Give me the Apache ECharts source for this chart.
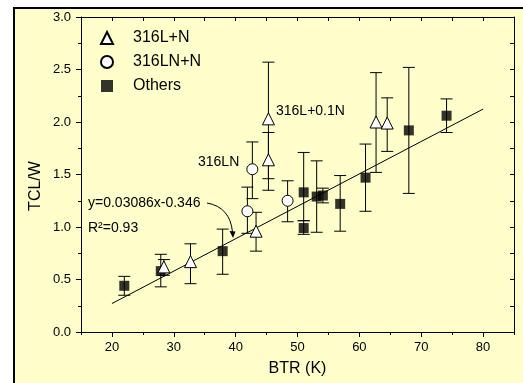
<!DOCTYPE html>
<html>
<head>
<meta charset="utf-8">
<script src="https://cdn.jsdelivr.net/npm/echarts@6/dist/echarts.min.js"></script>
<style>
  html, body { margin: 0; padding: 0; background: #fff; }
  #container { width: 523px; height: 383px; }
</style>
</head>
<body>
<div id="container"></div>
<script>
var FONT = '"Liberation Sans", Arial, sans-serif';

// 316L+N (triangles)
var lnX = [28.4, 32.7, 43.3, 45.3, 45.3, 62.7, 64.5];
var lnY = [0.62, 0.67, 0.96, 2.03, 1.64, 2.00, 1.99];
var lnLow = [0.54, 0.46, 0.77, 1.46, 1.35, 1.52, 1.72];
var lnHigh = [0.69, 0.84, 1.14, 2.57, 1.90, 2.47, 2.23];

// 316LN+N (circles)
var lnnX = [42.7, 41.9, 48.4];
var lnnY = [1.55, 1.15, 1.25];
var lnnLow = [1.27, 0.94, 1.05];
var lnnHigh = [1.81, 1.38, 1.44];

// Others (squares)
var othX = [22, 27.9, 37.9, 51, 51, 53.1, 54.1, 56.9, 61, 68, 74.1];
var othY = [0.44, 0.58, 0.77, 1.33, 0.99, 1.29, 1.30, 1.22, 1.47, 1.92, 2.06];
var othLow = [0.35, 0.43, 0.55, 1.06, 0.93, 0.95, 1.23, 0.96, 1.15, 1.32, 1.90];
var othHigh = [0.53, 0.74, 0.98, 1.71, 1.06, 1.63, 1.37, 1.49, 1.79, 2.52, 2.22];

// linear fit y=0.03086x-0.346
var fitX = [20, 80];
var fitY = [0.271, 2.123];

var xMajor = [20, 30, 40, 50, 60, 70, 80];
var xMinor = [15, 25, 35, 45, 55, 65, 75, 85];
var xAll = [15, 20, 25, 30, 35, 40, 45, 50, 55, 60, 65, 70, 75, 80, 85];

function pts(xs, ys) {
    return xs.map(function (x, i) { return [x, ys[i]]; });
}
function bars(xs, lo, hi) {
    return xs.map(function (x, i) { return [x, lo[i], hi[i]]; });
}

function renderBar(params, api) {
    var x = api.value(0);
    var lo = api.coord([x, api.value(1)]);
    var hi = api.coord([x, api.value(2)]);
    var w = 6;
    var st = { stroke: '#000', lineWidth: 1 };
    return {
        type: 'group',
        children: [
            { type: 'line', shape: { x1: lo[0], y1: lo[1], x2: hi[0], y2: hi[1] }, style: st },
            { type: 'line', shape: { x1: lo[0] - w, y1: lo[1], x2: lo[0] + w, y2: lo[1] }, style: st },
            { type: 'line', shape: { x1: hi[0] - w, y1: hi[1], x2: hi[0] + w, y2: hi[1] }, style: st }
        ]
    };
}

var allBars = bars(lnX, lnLow, lnHigh)
    .concat(bars(lnnX, lnnLow, lnnHigh))
    .concat(bars(othX, othLow, othHigh));

var dom = document.getElementById('container');
var myChart = echarts.init(dom, null, { renderer: 'canvas' });

var black = { color: '#000', width: 1 };

var option = {
    animation: false,
    backgroundColor: 'transparent',
    textStyle: { fontFamily: FONT },
    grid: { left: 81, right: 9, top: 17, bottom: 51 },
    legend: {
        orient: 'vertical',
        left: 100,
        top: 30,
        padding: 0,
        itemGap: 8,
        itemWidth: 12,
        itemHeight: 12,
        textStyle: { fontSize: 16, color: '#000', fontFamily: FONT, padding: [0, 0, 0, 15] },
        data: [
            { name: '316L+N', icon: 'triangle' },
            { name: '316LN+N', icon: 'circle' },
            { name: 'Others', icon: 'rect', itemStyle: { borderWidth: 0 } }
        ]
    },
    xAxis: [
        {
            type: 'value', position: 'bottom', min: 15, max: 85,
            name: 'BTR (K)', nameLocation: 'middle', nameGap: 29,
            nameTextStyle: { fontSize: 16, color: '#000', fontFamily: FONT },
            axisLine: { show: true, onZero: false, lineStyle: black },
            axisTick: { show: true, customValues: xMajor, length: 5, lineStyle: black },
            axisLabel: { customValues: xMajor, fontSize: 13, color: '#000', margin: 9, fontFamily: FONT },
            splitLine: { show: false }
        },
        {
            type: 'value', position: 'bottom', min: 15, max: 85,
            axisLine: { show: false, onZero: false },
            axisTick: { show: true, customValues: xMinor, length: 3, lineStyle: black },
            axisLabel: { show: false },
            splitLine: { show: false }
        },
        {
            type: 'value', position: 'top', min: 15, max: 85,
            axisLine: { show: true, onZero: false, lineStyle: black },
            axisTick: { show: true, inside: true, customValues: xAll, length: 4, lineStyle: black },
            axisLabel: { show: false },
            splitLine: { show: false }
        }
    ],
    yAxis: [
        {
            type: 'value', position: 'left', min: 0, max: 3, interval: 0.5,
            axisLine: { show: true, onZero: false, lineStyle: black },
            axisTick: { show: true, length: 5, lineStyle: black },
            minorTick: { show: true, splitNumber: 2, length: 3, lineStyle: black },
            axisLabel: {
                fontSize: 13, color: '#000', margin: 10, fontFamily: FONT,
                formatter: function (v) { return v.toFixed(1); }
            },
            splitLine: { show: false },
            minorSplitLine: { show: false }
        },
        {
            type: 'value', position: 'right', min: 0, max: 3, interval: 0.5,
            axisLine: { show: true, onZero: false, lineStyle: black },
            axisTick: { show: true, inside: true, length: 4, lineStyle: black },
            minorTick: { show: true, splitNumber: 2, length: 4, lineStyle: black },
            axisLabel: { show: false },
            splitLine: { show: false },
            minorSplitLine: { show: false }
        }
    ],
    graphic: [
        { type: 'rect', z: -10, shape: { x: 13, y: 7, width: 520, height: 390 },
          style: { fill: '#ffffcc', stroke: null } },
        { type: 'line', z: -9, shape: { x1: 13, y1: 8, x2: 523, y2: 8 },
          style: { stroke: '#000', lineWidth: 2 } },
        { type: 'line', z: -9, shape: { x1: 14, y1: 7, x2: 14, y2: 383 },
          style: { stroke: '#000', lineWidth: 2 } },
        { type: 'text', x: 36, y: 186, rotation: Math.PI / 2,
          style: { text: 'TCL/W', font: '16px ' + FONT, fill: '#000', align: 'center', verticalAlign: 'middle' } },
        { type: 'text', x: 276, y: 111,
          style: { text: '316L+0.1N', font: '14px ' + FONT, fill: '#000', align: 'left', verticalAlign: 'middle' } },
        { type: 'text', x: 198, y: 162,
          style: { text: '316LN', font: '14px ' + FONT, fill: '#000', align: 'left', verticalAlign: 'middle' } },
        { type: 'text', x: 88, y: 203,
          style: { text: 'y=0.03086x-0.346', font: '14px ' + FONT, fill: '#000', align: 'left', verticalAlign: 'middle' } },
        { type: 'text', x: 88, y: 228,
          style: { text: 'R\u00b2=0.93', font: '14px ' + FONT, fill: '#000', align: 'left', verticalAlign: 'middle' } },
        { type: 'bezierCurve', z: 50,
          shape: { x1: 207, y1: 203, x2: 232.5, y2: 232, cpx1: 230, cpy1: 207 },
          style: { stroke: '#000', lineWidth: 1, fill: null } },
        { type: 'polygon', z: 50,
          shape: { points: [[229.5, 231], [235.5, 231.5], [233, 238]] },
          style: { fill: '#000' } }
    ],
    series: [
        {
            type: 'line', name: 'fit', data: pts(fitX, fitY),
            showSymbol: false, symbol: 'none',
            lineStyle: { color: '#000', width: 1 }, z: 2
        },
        {
            type: 'custom', name: 'err', renderItem: renderBar,
            encode: { x: 0, y: [1, 2] }, data: allBars, z: 3
        },
        {
            type: 'scatter', name: 'Others', data: pts(othX, othY),
            symbol: 'rect', symbolSize: 10,
            itemStyle: { color: '#000', borderColor: '#000', borderWidth: 0 }, z: 5
        },
        {
            type: 'scatter', name: '316L+N', data: pts(lnX, lnY),
            symbol: 'triangle', symbolSize: 12,
            itemStyle: { color: '#fff', borderColor: '#000', borderWidth: 1, opacity: 1 }, z: 6
        },
        {
            type: 'scatter', name: '316LN+N', data: pts(lnnX, lnnY),
            symbol: 'circle', symbolSize: 11,
            itemStyle: { color: '#fff', borderColor: '#000', borderWidth: 1, opacity: 1 }, z: 6
        }
    ]
};

myChart.setOption(option);
window.addEventListener('resize', myChart.resize);
</script>
</body>
</html>
